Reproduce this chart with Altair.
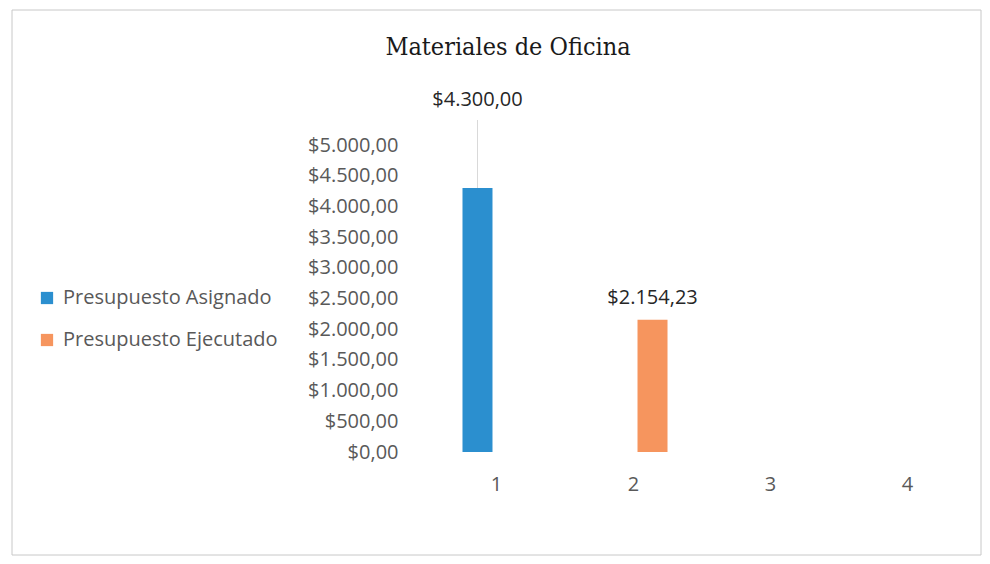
import altair as alt
import pandas as pd

categories = ["1", "2", "3", "4"]
series = ["Presupuesto Asignado", "Presupuesto Ejecutado"]
values = [4300.00, 2154.23]
bar_categories = ["1", "2"]
colors = ["#2b8fcf", "#f6955e"]
y_ticks = [0, 500, 1000, 1500, 2000, 2500, 3000, 3500, 4000, 4500, 5000]
title_text = "Materiales de Oficina"

df = pd.DataFrame({"cat": bar_categories, "serie": series, "valor": values})

PLOT_W, PLOT_H = 548, 307
X0, Y0 = 428, 145  # plot area origin on the page
FONT = "Open Sans"
FS = 20
GREY = "#595959"

x_enc = alt.X("cat:N", scale=alt.Scale(domain=categories, paddingInner=0.445, paddingOuter=0.2225),
              axis=alt.Axis(title=None, labelAngle=0, domain=False, ticks=False,
                            labelFont=FONT, labelFontSize=FS, labelColor=GREY,
                            labelPadding=22, labelBaseline="top"))
xo_enc = alt.XOffset("serie:N", scale=alt.Scale(domain=series, paddingInner=0, paddingOuter=0))
y_enc = alt.Y("valor:Q", scale=alt.Scale(domain=[0, 5000], nice=False),
              axis=alt.Axis(title=None, values=y_ticks, format="$,.2f", domain=False,
                            ticks=False, grid=False, labelFont=FONT, labelFontSize=FS,
                            labelColor=GREY, labelPadding=30, labelOverlap=False,
                            labelFlush=False))

base = alt.Chart(df)

bars = base.mark_bar(size=30).encode(
    x=x_enc,
    xOffset=xo_enc,
    y=y_enc,
    color=alt.Color("serie:N", scale=alt.Scale(domain=series, range=colors),
                    legend=alt.Legend(title=None, orient="none",
                                      legendX=37 - X0, legendY=288 - Y0,
                                      symbolType="square", symbolSize=150,
                                      symbolStrokeWidth=0, labelFont=FONT,
                                      labelFontSize=FS, labelColor=GREY,
                                      labelOffset=6, rowPadding=22, padding=0,
                                      labelLimit=0)),
)

leader = base.transform_filter(alt.datum.cat == "1").mark_rule(
    color="#d9d9d9", strokeWidth=1
).encode(x=x_enc, xOffset=xo_enc, y=y_enc, y2=alt.value(120 - Y0))

label_first = base.transform_filter(alt.datum.cat == "1").mark_text(
    font=FONT, fontSize=FS, color="#262626", dy=-88
).encode(x=x_enc, xOffset=xo_enc, y=y_enc, text=alt.Text("valor:Q", format="$,.2f"))

label_rest = base.transform_filter(alt.datum.cat != "1").mark_text(
    font=FONT, fontSize=FS, color="#262626", dy=-22
).encode(x=x_enc, xOffset=xo_enc, y=y_enc, text=alt.Text("valor:Q", format="$,.2f"))

frame = alt.Chart(pd.DataFrame({"k": [0]})).mark_rect(
    fill=None, stroke="#c8c8c8", strokeWidth=1
).encode(x=alt.value(12 - X0), x2=alt.value(981 - X0),
         y=alt.value(10 - Y0), y2=alt.value(555 - Y0))

title = alt.Chart(pd.DataFrame({"t": [title_text]})).mark_text(
    font="DejaVu Serif Condensed", fontSize=25, color="#1a1a1a", baseline="middle"
).encode(text="t:N", x=alt.value(508 - X0), y=alt.value(47 - Y0))

chart = alt.layer(frame, title, bars, leader, label_first, label_rest).properties(
    width=PLOT_W,
    height=PLOT_H,
    padding={"left": X0 - 8, "top": Y0 - 8, "right": 974 - (X0 - 8) - PLOT_W,
             "bottom": 548 - (Y0 - 8) - PLOT_H},
    autosize=alt.AutoSizeParams(type="none"),
).configure(
    locale={"number": {"decimal": ",", "thousands": ".", "grouping": [3],
                       "currency": ["$", ""]}},
).configure_view(stroke=None).configure_axis(grid=False)

chart.save("out.html", embed_options={"renderer": "svg", "actions": False})
